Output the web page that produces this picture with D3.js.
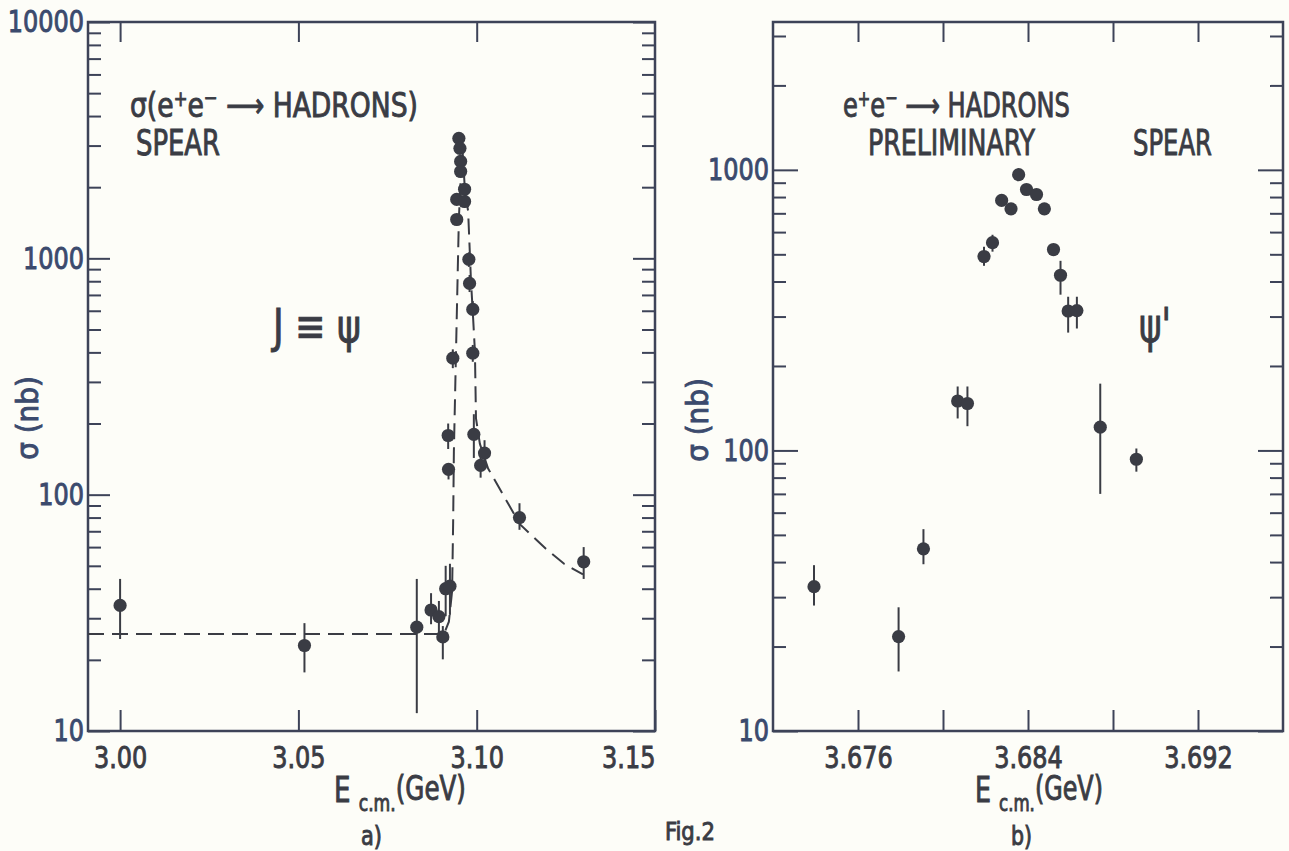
<!DOCTYPE html>
<html>
<head>
<meta charset="utf-8">
<script src="https://cdn.jsdelivr.net/npm/d3@7"></script>
<style>
body { margin:0; background:#fdfdf8; }
svg { display:block; }
text { font-family: "Liberation Sans Narrow", "DejaVu Sans Condensed", "Liberation Sans", sans-serif; }
</style>
</head>
<body>
<svg id="fig" width="1289" height="851"></svg>
<script>
// a) J/psi scan
var jpsiEnergy  = [3.000, 3.0517, 3.0832, 3.0872, 3.0894, 3.0905, 3.0913, 3.0925, 3.0920, 3.0921, 3.0933,
                   3.0944, 3.0944, 3.0950, 3.0953, 3.0955, 3.0955, 3.0966, 3.0966, 3.0978, 3.0980,
                   3.0989, 3.0989, 3.0992, 3.1011, 3.1022, 3.1120, 3.1300];
var jpsiSigma   = [34, 23, 27.5, 32.5, 30.5, 25, 40, 41, 178, 128, 378,
                   1460, 1775, 3220, 2920, 2570, 2330, 1960, 1740, 990, 783,
                   608, 397, 180, 133, 150, 80, 52];
var jpsiErrLow  = [24.5, 17.7, 11.9, 28.3, 25.9, 20.1, 30.6, 31, 156, 116, 343,
                   1380, 1680, 3050, 2760, 2430, 2200, 1850, 1640, 920, 720,
                   575, 365, 143, 118, 135, 71, 44];
var jpsiErrHigh = [44, 28.6, 44, 38.3, 35.5, 27.8, 50, 51, 200, 135, 412,
                   1540, 1870, 3390, 3080, 2710, 2460, 2070, 1840, 1060, 850,
                   660, 430, 219, 152, 170, 92, 60];
// dashed fit curve
var jpsiFitEnergy = [2.991, 3.0908, 3.0922, 3.0931, 3.0934, 3.0936, 3.0942, 3.0950, 3.0956, 3.0960,
                     3.0967, 3.0976, 3.0984, 3.0990, 3.0995, 3.0998, 3.1009, 3.1032, 3.1074, 3.1121,
                     3.1194, 3.1245, 3.1298];
var jpsiFitSigma  = [25.7, 25.7, 29, 39, 77, 152, 405, 1470, 2330, 2900,
                     1940, 1580, 800, 557, 404, 210, 164, 129, 100, 75,
                     59, 51, 46];
var jpsiXTicks  = [3.00, 3.05, 3.10, 3.15];
var jpsiXLabels = ["3.00", "3.05", "3.10", "3.15"];

// b) psi' scan
var psi2Energy  = [3.67393, 3.67791, 3.67908, 3.68069, 3.68115, 3.68193, 3.68233, 3.68276, 3.68320, 3.68356,
                   3.68393, 3.68440, 3.68477, 3.68520, 3.68553, 3.68589, 3.68630, 3.68740, 3.68910];
var psi2Sigma   = [32.7, 21.7, 44.6, 150, 147, 491, 550, 778, 726, 961,
                   851, 817, 726, 520, 421, 314, 315, 121, 93];
var psi2ErrLow  = [28, 16.3, 39.3, 130, 122, 455, 511, 745, 695, 920,
                   815, 782, 695, 498, 359, 263, 272, 70, 84];
var psi2ErrHigh = [39, 27.6, 52.4, 169, 169, 532, 587, 812, 757, 1002,
                   887, 852, 757, 542, 474, 353, 353, 173, 101.6];
var psi2XTicks  = [3.676, 3.680, 3.684, 3.688, 3.692];
var psi2XLabels = ["3.676", "", "3.684", "", "3.692"];

var ink = "#3a3c44";
var blueInk = "#3b4a6d";
var svg = d3.select("#fig");

function zipPoints(e, s, lo, hi) {
	var pts = [];
	for (var i = 0; i < e.length; i++) {
		pts.push({e: e[i], s: s[i], lo: lo ? lo[i] : null, hi: hi ? hi[i] : null});
	}
	return pts;
}

function isDecade(d) {
	return Math.abs(Math.log10(d) - Math.round(Math.log10(d))) < 1e-9;
}

// heavier strokes, like the stencil lettering of the scan
function inked(t, col) {
	return t.attr("fill", col).attr("stroke", col).attr("stroke-width", 0.9);
}

// squeeze a text to a measured width (narrow lettering of the original)
function fitText(t, x, y, w) {
	var len = t.node().getComputedTextLength();
	t.attr("transform", "translate(" + x + "," + y + ") scale(" + (w / len) + ",1)");
}

function drawPanel(x, y, xTicks, xLabels, topTicks, cfg) {
	var g = svg.append("g");
	var xl = x.range()[0], xr = x.range()[1], yb = y.range()[0], yt = y.range()[1];
	var all = y.ticks().filter(function(d) { return d >= y.domain()[0] && d <= y.domain()[1]; });
	var major = all.filter(isDecade);
	var minor = all.filter(function(d) { return !isDecade(d); });

	g.append("g").attr("transform", "translate(" + xl + ",0)")
		.call(d3.axisLeft(y).tickValues(minor).tickSize(-13).tickFormat(""));
	g.append("g").attr("class", "ylab").attr("transform", "translate(" + xl + ",0)")
		.call(d3.axisLeft(y).tickValues(major).tickSize(-cfg.majorLen).tickPadding(4).tickFormat(d3.format("d")));
	g.append("g").attr("transform", "translate(" + xr + ",0)")
		.call(d3.axisRight(y).tickValues(minor).tickSize(-13).tickFormat(""));
	g.append("g").attr("transform", "translate(" + xr + ",0)")
		.call(d3.axisRight(y).tickValues(major).tickSize(-cfg.majorLen).tickFormat(""));
	g.append("g").attr("class", "xlab").attr("transform", "translate(0," + yb + ")")
		.call(d3.axisBottom(x).tickValues(xTicks).tickSize(-21).tickPadding(15)
			.tickFormat(function(d, i) { return xLabels[i]; }));
	g.append("g").attr("transform", "translate(0," + yt + ")")
		.call(d3.axisTop(x).tickValues(topTicks).tickSize(-20).tickFormat(""));

	g.selectAll(".domain").remove();
	g.selectAll(".tick line").attr("stroke", "#3d4358").attr("stroke-width", 2);
	g.selectAll(".tick text").attr("font-size", 31)
		.attr("font-family", "Liberation Sans Narrow, DejaVu Sans Condensed, sans-serif")
		.attr("transform", "scale(0.86,1)")
		.each(function() { inked(d3.select(this), blueInk); });
	g.selectAll(".ylab .tick text").attr("x", -4 / 0.86);
	g.selectAll(".xlab .tick text").each(function() { inked(d3.select(this), ink); });
	// label at the right corner sits inside the frame
	g.selectAll(".xlab .tick text").filter(function(d) { return x(d) >= xr - 1; })
		.attr("text-anchor", "end").attr("x", 0);

	g.append("rect").attr("x", xl).attr("y", yt).attr("width", xr - xl).attr("height", yb - yt)
		.attr("fill", "none").attr("stroke", "#3d4358").attr("stroke-width", 2.5);
	return g;
}

function drawPoints(g, x, y, pts) {
	g.selectAll("line.err").data(pts.filter(function(d) { return d.lo != null; }))
		.enter().append("line").attr("class", "err")
		.attr("x1", function(d) { return x(d.e); }).attr("x2", function(d) { return x(d.e); })
		.attr("y1", function(d) { return y(d.lo); }).attr("y2", function(d) { return y(d.hi); })
		.attr("stroke", ink).attr("stroke-width", 2);
	g.selectAll("circle.pt").data(pts).enter().append("circle").attr("class", "pt")
		.attr("cx", function(d) { return x(d.e); }).attr("cy", function(d) { return y(d.s); })
		.attr("r", 6.6).attr("fill", ink);
}

function yTitle(cx, cy) {
	var t = svg.append("text").attr("transform", "translate(" + cx + "," + cy + ") rotate(-90)")
		.attr("text-anchor", "middle").attr("font-size", 31).text("σ (nb)");
	inked(t, blueInk);
}

function xTitle(x0, yBase, w) {
	var t = svg.append("text").attr("font-size", 35);
	t.append("tspan").text("E ");
	t.append("tspan").attr("font-size", 23).attr("dy", 9).text("c.m.");
	t.append("tspan").attr("font-size", 33).attr("dy", -11).text("(GeV)");
	inked(t, ink);
	fitText(t, x0, yBase, w);
}

function reaction(x0, yBase, w, withSigma) {
	var t = svg.append("text").attr("font-size", 34);
	if (withSigma) t.append("tspan").text("σ(");
	t.append("tspan").text("e");
	t.append("tspan").attr("font-size", 21).attr("dy", -11).text("+");
	t.append("tspan").attr("dy", 11).text("e");
	t.append("tspan").attr("font-size", 21).attr("dy", -12).text("−");
	t.append("tspan").attr("dy", 12).text(" ⟶ HADRONS" + (withSigma ? ")" : ""));
	inked(t, ink);
	fitText(t, x0, yBase, w);
}

function word(str, x0, yBase, w, size) {
	var t = svg.append("text").attr("font-size", size).text(str);
	inked(t, ink);
	fitText(t, x0, yBase, w);
	return t;
}

// ---- panel a) ----
var xA = d3.scaleLinear().domain([2.991, 3.15]).range([88, 655]);
var yA = d3.scaleLog().domain([10, 10000]).range([731, 22]);
var gA = drawPanel(xA, yA, jpsiXTicks, jpsiXLabels, [3.00, 3.05, 3.10], {majorLen: 22});

var fitLine = d3.line().x(function(d) { return xA(d.e); }).y(function(d) { return yA(d.s); });
gA.append("path").datum(zipPoints(jpsiFitEnergy, jpsiFitSigma))
	.attr("d", fitLine).attr("fill", "none").attr("stroke", ink)
	.attr("stroke-width", 2).attr("stroke-dasharray", "16,8");
drawPoints(gA, xA, yA, zipPoints(jpsiEnergy, jpsiSigma, jpsiErrLow, jpsiErrHigh));

yTitle(38, 418);
reaction(130, 117, 288, true);
word("SPEAR", 136, 155, 84, 35);
var jt = svg.append("text").attr("font-size", 46).text("J ≡ ψ");
inked(jt, ink);
fitText(jt, 273, 342, 88);
xTitle(334, 802, 132);
word("a)", 361, 845, 21, 26);
word("Fig.2", 665, 840, 50, 25);

// ---- panel b) ----
var xB = d3.scaleLinear().domain([3.672, 3.696]).range([773, 1283]);
var yB = d3.scaleLog().domain([10, 3365]).range([731, 22]);
var gB = drawPanel(xB, yB, psi2XTicks, psi2XLabels, psi2XTicks, {majorLen: 25});
drawPoints(gB, xB, yB, zipPoints(psi2Energy, psi2Sigma, psi2ErrLow, psi2ErrHigh));

yTitle(708, 420);
reaction(843, 117, 227, false);
word("PRELIMINARY", 868, 155, 167, 35);
word("SPEAR", 1133, 155, 79, 35);
var pt = svg.append("text").attr("font-size", 48).text("ψ'");
inked(pt, ink);
fitText(pt, 1139, 342, 32);
xTitle(975, 802, 128);
word("b)", 1011, 845, 21, 26);
</script>
</body>
</html>
